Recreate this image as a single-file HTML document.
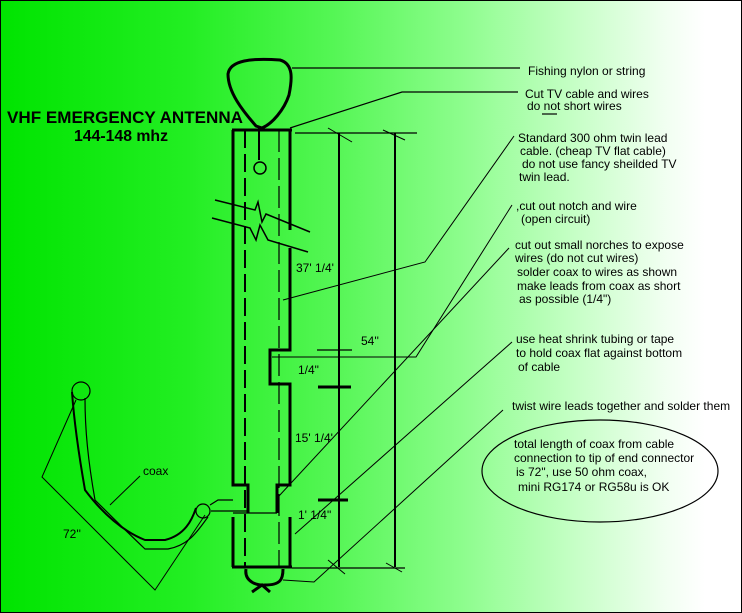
<!DOCTYPE html>
<html><head><style>
html,body{margin:0;padding:0}
body{width:742px;height:613px;overflow:hidden;background:linear-gradient(90deg,#00e400 0%,#22ee22 25%,#55f655 45%,#8cfd8c 62%,#c8ffc8 78%,#f2fff2 90%,#fff 95%);}
svg{position:absolute;left:0;top:0}
text{font-family:"Liberation Sans",sans-serif;font-size:12px;fill:#000}
</style></head><body>
<svg width="742" height="613" viewBox="0 0 742 613">
<rect x="0.5" y="0.5" width="741" height="612" fill="none" stroke="#000" stroke-width="1"/>
<g stroke="#000" fill="none">
<path d="M256 126 C242 110 228 92 228 74 C230 60 252 58 280 60 C294 64 292 80 289 95 C284 110 272 124 262 128 Z" stroke-width="3"/>
<line x1="259" y1="128" x2="259" y2="160" stroke-width="2"/>
<circle cx="260" cy="168" r="6" stroke-width="1.5"/>
<line x1="232" y1="130" x2="292" y2="130" stroke-width="3"/>
<line x1="232" y1="567" x2="292" y2="567" stroke-width="3"/>
<polyline points="233,130 233,485 248,485 248,513" stroke-width="3"/>
<line x1="233" y1="517" x2="233" y2="567" stroke-width="3"/>
<polyline points="290,130 290,230" stroke-width="3"/>
<polyline points="290,248 290,350 270,350 270,384 290,384 290,485 277,485 277,513" stroke-width="3"/>
<line x1="290" y1="517" x2="290" y2="567" stroke-width="3"/>
<line x1="233" y1="513" x2="277" y2="513" stroke-width="1.2"/>
<line x1="245" y1="130" x2="245" y2="567" stroke-width="2" stroke-dasharray="18,6"/>
<line x1="279" y1="130" x2="279" y2="567" stroke-width="1.2" stroke-dasharray="22,6"/>
<path d="M215 200 L255 210 L258 202 L262 222 L266 214 L310 232" stroke-width="1.5"/>
<path d="M212 218 L250 228 L256 240 L260 225 L268 240 L308 252" stroke-width="1.5"/>
<path d="M246 569 C244 582 258 586 265 585 C280 585 283 580 283 569" stroke-width="3"/>
<path d="M252 592 L262 585 L270 592" stroke-width="3"/>
<line x1="295" y1="133" x2="417" y2="133" stroke-width="1.2"/>
<line x1="339" y1="133" x2="339" y2="567" stroke-width="2"/>
<line x1="395" y1="133" x2="395" y2="567" stroke-width="2"/>
<line x1="292" y1="568" x2="405" y2="568" stroke-width="1.2"/>
<line x1="328" y1="128" x2="352" y2="142" stroke-width="1"/>
<line x1="383" y1="130" x2="405" y2="140" stroke-width="1"/>
<line x1="328" y1="560" x2="345" y2="574" stroke-width="1"/>
<line x1="386" y1="563" x2="402" y2="572" stroke-width="1"/>
<line x1="317" y1="350" x2="352" y2="350" stroke-width="1.2"/>
<line x1="318" y1="387" x2="351" y2="387" stroke-width="3"/>
<line x1="318" y1="500" x2="348" y2="500" stroke-width="3"/>
<line x1="292" y1="68" x2="520" y2="68" stroke-width="1.2"/>
<polyline points="290,128 402,92 518,92" stroke-width="1.2"/>
<polyline points="283,300 425,262 514,136" stroke-width="1"/>
<polyline points="272,357 416,357 512,205" stroke-width="1"/>
<polyline points="279,496 509,248" stroke-width="1"/>
<polyline points="295,534 512,342" stroke-width="1"/>
<polyline points="283,580 314,582 503,410" stroke-width="1"/>
<circle cx="81" cy="391" r="9" stroke-width="1.2"/>
<circle cx="203" cy="511" r="7" stroke-width="1.2"/>
<path d="M72 392 C74 420 78 450 85 490 C100 510 120 530 145 540 L165 540 C185 535 192 520 196 508" stroke-width="2"/>
<path d="M85 398 C85 430 88 460 95 500 C110 515 125 530 145 549 L168 549 C190 545 198 530 208 517" stroke-width="1.2"/>
<path d="M210 505 L218 500 L233 500 M211 511 L248 511" stroke-width="1.2"/>
<polyline points="76,400 42,477 155,590 205,515" stroke-width="1"/>
<line x1="110" y1="505" x2="140" y2="476" stroke-width="1"/>
<ellipse cx="600" cy="471" rx="118" ry="51" stroke-width="1.2"/>
<line x1="542" y1="114" x2="557" y2="114" stroke-width="1.2"/>
</g>
<text x="7" y="123" style="font-size:16.5px;font-weight:bold" textLength="236" lengthAdjust="spacingAndGlyphs">VHF EMERGENCY ANTENNA</text>
<text x="74" y="141" style="font-size:15.5px;font-weight:bold" textLength="94" lengthAdjust="spacingAndGlyphs">144-148 mhz</text>
<text x="528" y="75">Fishing nylon or string</text>
<text x="525" y="98">Cut TV cable and wires</text>
<text x="527" y="110">do not short wires</text>
<text x="518" y="142">Standard 300 ohm twin lead</text>
<text x="520" y="155">cable. (cheap TV flat cable)</text>
<text x="522" y="168">do not use fancy sheilded TV</text>
<text x="519" y="181">twin lead.</text>
<text x="516" y="210">,cut out notch and wire</text>
<text x="521" y="223">(open circuit)</text>
<text x="515" y="249">cut out small norches to expose</text>
<text x="515" y="262">wires (do not cut wires)</text>
<text x="517" y="276">solder coax to wires as shown</text>
<text x="517" y="290">make leads from coax as short</text>
<text x="519" y="303">as possible (1/4")</text>
<text x="516" y="343">use heat shrink tubing or tape</text>
<text x="516" y="357">to hold coax flat against bottom</text>
<text x="518" y="371">of cable</text>
<text x="512" y="410">twist wire leads together and solder them</text>
<text x="514" y="448">total length of coax from cable</text>
<text x="514" y="462">connection to tip of end connector</text>
<text x="516" y="476">is 72", use 50 ohm coax,</text>
<text x="518" y="491">mini RG174 or RG58u is OK</text>
<text x="296" y="272">37' 1/4'</text>
<text x="361" y="345">54''</text>
<text x="298" y="374">1/4"</text>
<text x="295" y="442">15' 1/4'</text>
<text x="298" y="519">1' 1/4"</text>
<text x="143" y="475">coax</text>
<text x="63" y="538">72''</text>
</svg>
</body></html>
